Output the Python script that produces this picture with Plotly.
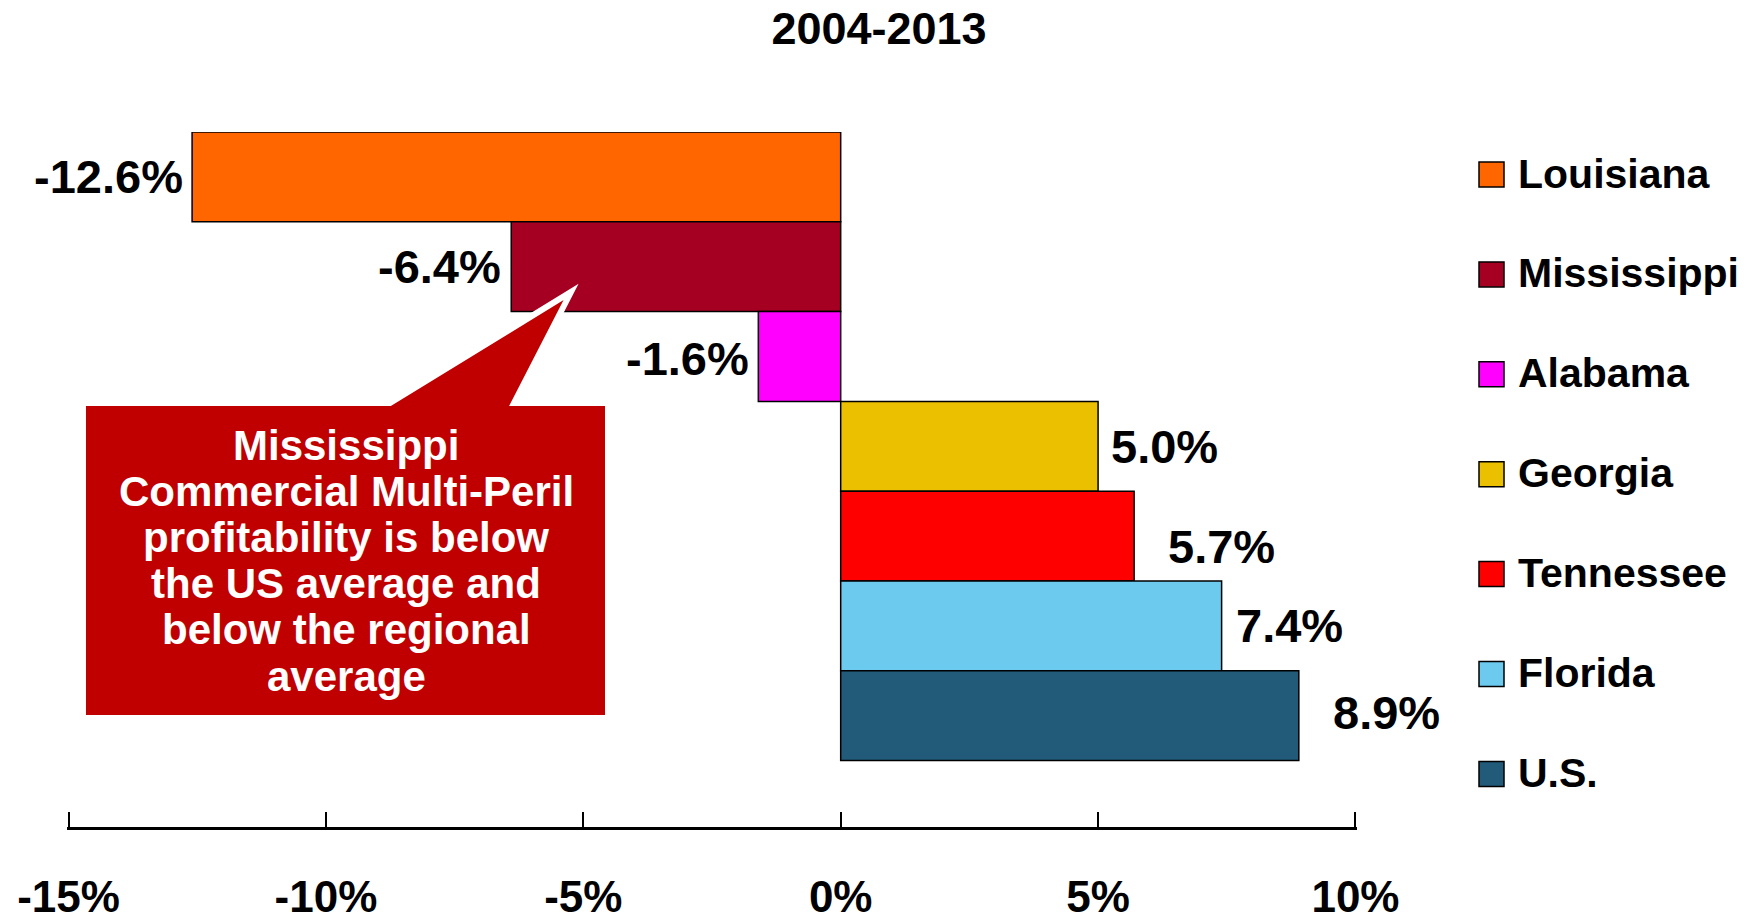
import plotly.graph_objects as go

# Commercial Multi-Peril profitability by state, 2004-2013
states = ["Louisiana", "Mississippi", "Alabama", "Georgia", "Tennessee", "Florida", "U.S."]
returns = [-12.6, -6.4, -1.6, 5.0, 5.7, 7.4, 8.9]
bar_colors = ["#FF6600", "#A50021", "#FF00FF", "#EBC000", "#FF0000", "#6DCAEF", "#225B7A"]
tick_values = [-15, -10, -5, 0, 5, 10]
tick_labels = ["-15%", "-10%", "-5%", "0%", "5%", "10%"]
title_text = "2004-2013"
callout_lines = [
    "Mississippi",
    "Commercial Multi-Peril",
    "profitability is below",
    "the US average and",
    "below the regional",
    "average",
]

FONT = "Arial, Liberation Sans, Helvetica, sans-serif"
W, H = 1754, 923
PLOT_L, PLOT_R, PLOT_T, PLOT_B = 67, 1357, 132, 827

# value-label nudges (pixels) so labels sit clear of the bar ends
label_xshift = [-7, -8, -7, 11, 32, 12, 32]
label_yshift = [0, 0, -2, 0, -10, 0, 3]


def paper(px, py):
    """Convert page pixels to paper coordinates of the plot area."""
    return ((px - PLOT_L) / (PLOT_R - PLOT_L), (PLOT_B - py) / (PLOT_B - PLOT_T))


fig = go.Figure()
fig.add_trace(go.Bar(
    y=states,
    x=returns,
    orientation="h",
    width=1,
    marker=dict(color=bar_colors, line=dict(color="black", width=1.5)),
    showlegend=False,
    hoverinfo="skip",
))

annotations = []

# value labels
for s, v, dx, dy in zip(states, returns, label_xshift, label_yshift):
    annotations.append(dict(
        x=v, y=s, xref="x", yref="y",
        text=f"{v:.1f}%",
        showarrow=False,
        xanchor="right" if v < 0 else "left",
        yanchor="middle",
        xshift=dx, yshift=dy,
        font=dict(family=FONT, size=47, color="black", weight="bold"),
    ))

# legend (drawn as squares + names so the swatches can be large)
shapes = []
for i, (name, color) in enumerate(zip(states, bar_colors)):
    cy = 174.5 + i * 99.9
    x0, y0 = paper(1479, cy + 12.5)
    x1, y1 = paper(1504, cy - 12.5)
    shapes.append(dict(type="rect", xref="paper", yref="paper",
                       x0=x0, y0=y0, x1=x1, y1=y1,
                       fillcolor=color, line=dict(color="black", width=1.5)))
    tx, ty = paper(1516, cy - 1)
    annotations.append(dict(
        x=tx, y=ty, xref="paper", yref="paper", text=name, showarrow=False,
        xanchor="left", yanchor="middle",
        font=dict(family=FONT, size=41, color="black", weight="bold"),
    ))

# callout box with pointer toward the Mississippi bar
pts = [(83, 403), (390, 403), (571, 292), (514, 403), (608, 403), (608, 718), (83, 718)]
path = "M " + " L ".join(f"{paper(px, py)[0]:.5f},{paper(px, py)[1]:.5f}" for px, py in pts) + " Z"
shapes.append(dict(type="path", xref="paper", yref="paper", path=path,
                   fillcolor="#C00000", line=dict(color="white", width=6), layer="above"))

for i, line in enumerate(callout_lines):
    tx, ty = paper(346, 445 + i * 46.2)
    annotations.append(dict(
        x=tx, y=ty, xref="paper", yref="paper", text=line, showarrow=False,
        xanchor="center", yanchor="middle",
        font=dict(family=FONT, size=42, color="white", weight="bold"),
    ))

fig.update_layout(
    width=W, height=H,
    margin=dict(l=PLOT_L, r=W - PLOT_R, t=PLOT_T, b=H - PLOT_B, pad=0, autoexpand=False),
    paper_bgcolor="white", plot_bgcolor="white",
    barmode="overlay",
    title=dict(text=title_text, x=879 / W, xanchor="center", xref="container",
               y=1 - 28 / H, yanchor="middle", yref="container", automargin=False,
               font=dict(family=FONT, size=45, color="black", weight="bold")),
    xaxis=dict(
        range=[-15.03, 10.03], tickvals=tick_values, ticktext=tick_labels,
        showline=True, linecolor="black", linewidth=3,
        ticks="inside", ticklen=15, tickwidth=2, tickcolor="black",
        showgrid=False, zeroline=False, ticklabelstandoff=29, automargin=False,
        tickfont=dict(family=FONT, size=44, color="black", weight="bold"),
    ),
    yaxis=dict(
        categoryorder="array", categoryarray=states, automargin=False,
        range=[7.24, -0.5], showticklabels=False, showline=False,
        showgrid=False, zeroline=False, ticks="",
    ),
    shapes=shapes,
    annotations=annotations,
)

fig.write_html("out.html")
